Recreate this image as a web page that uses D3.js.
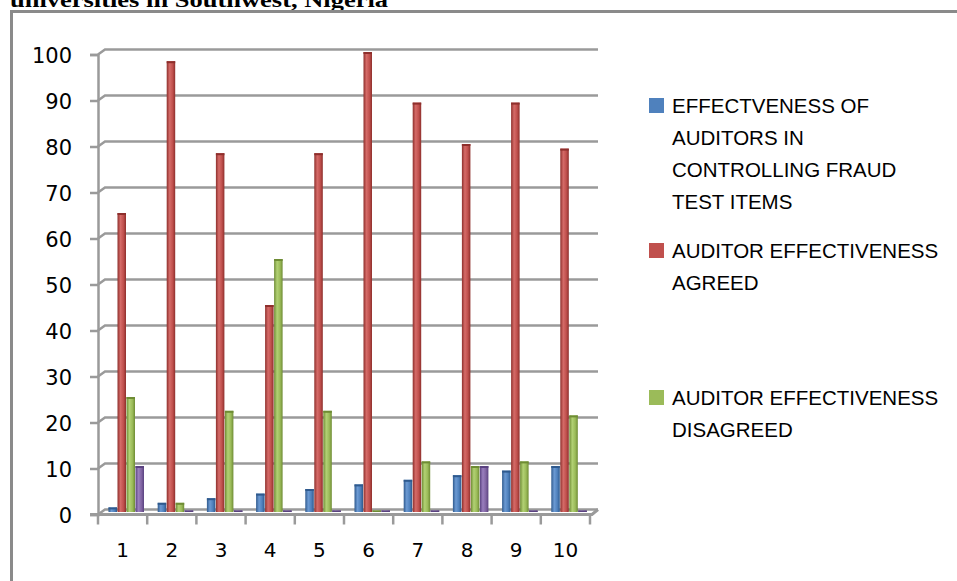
<!DOCTYPE html>
<html><head><meta charset="utf-8">
<script src="https://cdn.jsdelivr.net/npm/d3@7"></script>
<style>html,body{margin:0;padding:0;background:#fff;overflow:hidden}</style>
</head><body>
<svg id="c" width="957" height="581"></svg>
<script>
// ---- data ----
const categories = ["1","2","3","4","5","6","7","8","9","10"];
const seriesNames = [
  "EFFECTVENESS OF AUDITORS IN CONTROLLING FRAUD TEST ITEMS",
  "AUDITOR EFFECTIVENESS AGREED",
  "AUDITOR EFFECTIVENESS DISAGREED",
  "Series4"
];
const testItems = [1, 2, 3, 4, 5, 6, 7, 8, 9, 10];
const agreed    = [65, 98, 78, 45, 78, 100, 89, 80, 89, 79];
const disagreed = [25, 2, 22, 55, 22, 0, 11, 10, 11, 21];
const series4   = [10, 0, 0, 0, 0, 0, 0, 10, 0, 0];
const yTicks = [0, 10, 20, 30, 40, 50, 60, 70, 80, 90, 100];
const legendLines = [
  ["EFFECTVENESS OF", "AUDITORS IN", "CONTROLLING FRAUD", "TEST ITEMS"],
  ["AUDITOR EFFECTIVENESS", "AGREED"],
  ["AUDITOR EFFECTIVENESS", "DISAGREED"]
];
const titleText = "universities in Southwest, Nigeria";

// ---- styles / layout ----
const colors = ["#4F81BD", "#C0504D", "#9BBB59", "#8064A2"];
const darker = ["#2f5a8e", "#8e2f2c", "#6e8c34", "#5a4280"];
const lighter = ["#6c9ad3", "#d56b68", "#b2d174", "#9a7fbe"];
const seriesData = [testItems, agreed, disagreed, series4];
const depth = {dx: 7, dy: -5};
const barOff = {dx: 3.5, dy: -2.5};

const svg = d3.select("#c");
const defs = svg.append("defs");
colors.forEach((c, i) => {
  const g = defs.append("linearGradient").attr("id", "g" + i)
    .attr("x1", "0%").attr("x2", "100%").attr("y1", "0%").attr("y2", "0%");
  g.append("stop").attr("offset", "0%").attr("stop-color", darker[i]);
  g.append("stop").attr("offset", "35%").attr("stop-color", lighter[i]);
  g.append("stop").attr("offset", "70%").attr("stop-color", c);
  g.append("stop").attr("offset", "100%").attr("stop-color", darker[i]);
});

// title (cropped at top)
svg.append("text").attr("x", 10).attr("y", 7)
  .attr("font-family", "Liberation Serif, Times New Roman, serif")
  .attr("font-weight", "bold").attr("font-size", 22)
  .attr("textLength", 378).attr("lengthAdjust", "spacingAndGlyphs")
  .text(titleText);

// outer frame
svg.append("path").attr("d", "M11.5,581 V11.5 H957")
  .attr("fill", "none").attr("stroke", "#8a8a8a").attr("stroke-width", 3);

const x = d3.scaleBand().domain(categories).range([98, 590]).padding(0);
const x1 = d3.scaleBand().domain(d3.range(4)).range([7, 43]).padding(0);
const y = d3.scaleLinear().domain([0, 100]).range([514.5, 54.5]);

const gridColor = "#9a9a9a";
// back-wall gridlines with slanted connectors
const grid = svg.append("g");
yTicks.forEach(v => {
  grid.append("path")
    .attr("d", `M${x.range()[0]},${y(v)} L${x.range()[0] + depth.dx},${y(v) + depth.dy} H${x.range()[1] + 8}`)
    .attr("fill", "none").attr("stroke", gridColor).attr("stroke-width", 2.5);
});

// y axis
const yAxis = d3.axisLeft(y).tickValues(yTicks).tickSize(8).tickPadding(18).tickFormat(d3.format("d"));
const yg = svg.append("g").attr("transform", `translate(${x.range()[0]},0)`).call(yAxis);
yg.select(".domain").attr("stroke", gridColor).attr("stroke-width", 2.5);
yg.selectAll(".tick line").attr("stroke", gridColor).attr("stroke-width", 2.5);
yg.selectAll(".tick text").attr("font-family", "DejaVu Sans, sans-serif").attr("font-size", 21)
  .attr("fill", "#000").attr("dy", "0.38em");

// bars
const barsG = svg.append("g").attr("transform", `translate(${barOff.dx},${barOff.dy})`);
categories.forEach((cat, ci) => {
  seriesData.forEach((arr, si) => {
    const v = arr[ci];
    const bx = x(cat) + x1(si);
    const bw = x1.bandwidth();
    const top = y(v);
    const h = Math.max(1.5, y(0) - top);
    barsG.append("rect").attr("x", bx).attr("y", y(0) - h).attr("width", bw - 0.5).attr("height", h)
      .attr("fill", `url(#g${si})`);
    barsG.append("rect").attr("x", bx).attr("y", y(0) - h).attr("width", bw - 0.5).attr("height", Math.min(2, h))
      .attr("fill", darker[si]);
  });
});

// x axis floor
const floor = svg.append("path")
  .attr("d", `M90,${y(0)} H${x.range()[1] + 2} L${x.range()[1] + 8},${y(0) + depth.dy}`)
  .attr("fill", "none").attr("stroke", gridColor).attr("stroke-width", 3);
const xAxis = d3.axisBottom(x).tickSize(0).tickPadding(28);
const xg = svg.append("g").attr("transform", `translate(0,${y(0)})`).call(xAxis);
xg.select(".domain").remove();
xg.selectAll(".tick text").attr("font-family", "DejaVu Sans, sans-serif").attr("font-size", 20).attr("fill", "#000");
// category boundary ticks
const bounds = categories.map(c => x(c)).concat([x.range()[1]]);
svg.append("g").selectAll("line").data(bounds).join("line")
  .attr("x1", d => d).attr("x2", d => d).attr("y1", y(0)).attr("y2", y(0) + 10)
  .attr("stroke", gridColor).attr("stroke-width", 2.5);

// legend
const legendTops = [98, 243, 390];
const lg = svg.append("g");
legendLines.forEach((lines, i) => {
  lg.append("rect").attr("x", 649).attr("y", legendTops[i]).attr("width", 15).attr("height", 15).attr("fill", colors[i]);
  lines.forEach((t, li) => {
    lg.append("text").attr("x", 672).attr("y", legendTops[i] + 15 + li * 32)
      .attr("font-family", "Liberation Sans, Arial, sans-serif").attr("font-size", 20.5).attr("fill", "#000")
      .text(t);
  });
});
</script>
</body></html>
